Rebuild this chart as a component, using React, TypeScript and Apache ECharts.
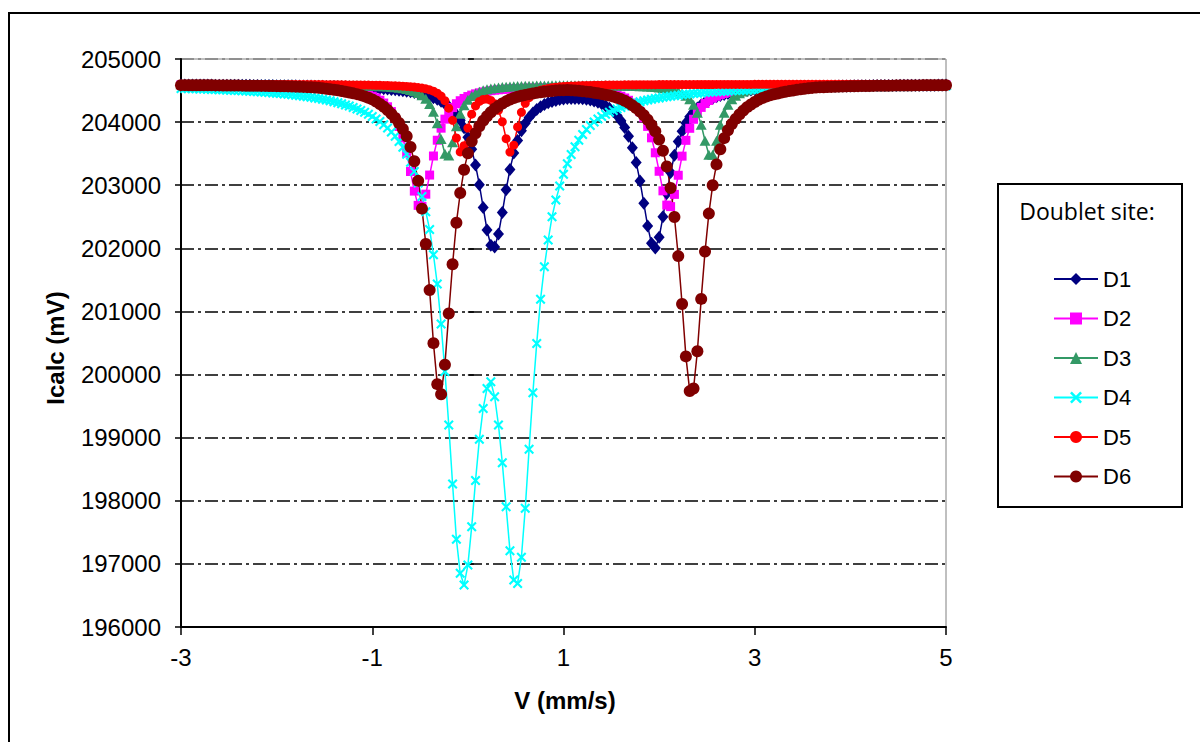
import React, { useEffect, useRef } from 'react';
import * as echarts from 'echarts';

// Velocity channels (mm/s)
const V = [
  -3,-2.96,-2.92,-2.88,-2.84,-2.8,-2.76,-2.72,-2.68,-2.64,
  -2.6,-2.56,-2.52,-2.48,-2.44,-2.4,-2.36,-2.32,-2.28,-2.24,
  -2.2,-2.16,-2.12,-2.08,-2.04,-2,-1.96,-1.92,-1.88,-1.84,
  -1.8,-1.76,-1.72,-1.68,-1.64,-1.6,-1.56,-1.52,-1.48,-1.44,
  -1.4,-1.36,-1.32,-1.28,-1.24,-1.2,-1.16,-1.12,-1.08,-1.04,
  -1,-0.96,-0.92,-0.88,-0.84,-0.8,-0.76,-0.72,-0.68,-0.64,
  -0.6,-0.56,-0.52,-0.48,-0.44,-0.4,-0.36,-0.32,-0.28,-0.24,
  -0.2,-0.16,-0.12,-0.08,-0.04,0,0.04,0.08,0.12,0.16,
  0.2,0.24,0.28,0.32,0.36,0.4,0.44,0.48,0.52,0.56,
  0.6,0.64,0.68,0.72,0.76,0.8,0.84,0.88,0.92,0.96,
  1,1.04,1.08,1.12,1.16,1.2,1.24,1.28,1.32,1.36,
  1.4,1.44,1.48,1.52,1.56,1.6,1.64,1.68,1.72,1.76,
  1.8,1.84,1.88,1.92,1.96,2,2.04,2.08,2.12,2.16,
  2.2,2.24,2.28,2.32,2.36,2.4,2.44,2.48,2.52,2.56,
  2.6,2.64,2.68,2.72,2.76,2.8,2.84,2.88,2.92,2.96,
  3,3.04,3.08,3.12,3.16,3.2,3.24,3.28,3.32,3.36,
  3.4,3.44,3.48,3.52,3.56,3.6,3.64,3.68,3.72,3.76,
  3.8,3.84,3.88,3.92,3.96,4,4.04,4.08,4.12,4.16,
  4.2,4.24,4.28,4.32,4.36,4.4,4.44,4.48,4.52,4.56,
  4.6,4.64,4.68,4.72,4.76,4.8,4.84,4.88,4.92,4.96,
  5
];

const D1 = [
  204589,204589,204588,204588,204588,204587,204587,204587,204587,204586,
  204586,204585,204585,204585,204584,204584,204583,204583,204583,204582,
  204582,204581,204580,204580,204579,204578,204578,204577,204576,204575,
  204575,204574,204573,204572,204571,204570,204568,204567,204566,204564,
  204563,204561,204559,204558,204556,204553,204551,204548,204546,204543,
  204539,204536,204532,204527,204523,204517,204512,204505,204498,204489,
  204480,204470,204457,204444,204427,204409,204387,204361,204329,204292,
  204246,204189,204118,204028,203912,203762,203569,203319,203008,202647,
  202291,202047,202021,202226,202567,202930,203250,203509,203710,203864,
  203982,204073,204144,204200,204244,204279,204305,204327,204344,204357,
  204366,204373,204376,204376,204374,204369,204361,204350,204334,204315,
  204290,204258,204219,204168,204103,204021,203915,203776,203595,203361,
  203065,202714,202352,202079,202006,202174,202500,202868,203202,203476,
  203691,203857,203985,204084,204162,204225,204274,204315,204349,204377,
  204401,204420,204438,204452,204465,204476,204486,204495,204502,204509,
  204515,204521,204526,204530,204534,204538,204541,204544,204547,204550,
  204552,204555,204557,204559,204561,204562,204564,204565,204567,204568,
  204569,204570,204571,204572,204573,204574,204575,204576,204577,204577,
  204578,204579,204579,204580,204581,204581,204582,204582,204583,204583,
  204584,204584,204585,204585,204585,204586,204586,204586,204587,204587,
  204587
];

const D2 = [
  204590,204590,204589,204589,204589,204588,204588,204588,204587,204587,
  204586,204586,204585,204585,204584,204584,204583,204582,204582,204581,
  204579,204578,204577,204576,204575,204573,204572,204571,204569,204568,
  204566,204564,204562,204559,204556,204553,204549,204546,204542,204537,
  204532,204526,204520,204513,204505,204494,204483,204470,204454,204435,
  204411,204383,204347,204302,204243,204167,204065,203930,203749,203511,
  203217,202907,202681,202664,202858,203161,203463,203713,203904,204047,
  204150,204230,204291,204339,204375,204405,204428,204448,204464,204478,
  204488,204498,204506,204512,204518,204523,204527,204530,204533,204535,
  204537,204539,204540,204541,204542,204542,204542,204541,204540,204539,
  204538,204536,204534,204531,204527,204524,204519,204513,204507,204500,
  204490,204480,204467,204452,204433,204410,204382,204346,204302,204243,
  204167,204067,203932,203751,203514,203221,202911,202685,202661,202855,
  203158,203461,203711,203902,204045,204152,204233,204295,204343,204380,
  204410,204434,204454,204471,204485,204496,204507,204515,204523,204529,
  204535,204540,204544,204548,204551,204555,204558,204560,204563,204565,
  204567,204569,204570,204572,204573,204574,204575,204576,204577,204578,
  204579,204580,204581,204581,204582,204583,204583,204584,204584,204585,
  204585,204586,204586,204587,204587,204588,204588,204588,204589,204589,
  204589,204590,204590,204590,204590,204590,204590,204590,204590,204590,
  204590
];

const D3 = [
  204598,204598,204598,204598,204597,204597,204597,204597,204597,204597,
  204597,204597,204596,204596,204596,204596,204596,204596,204596,204596,
  204596,204595,204595,204595,204595,204595,204594,204594,204594,204594,
  204593,204593,204593,204592,204592,204592,204591,204591,204590,204590,
  204589,204588,204587,204586,204585,204584,204583,204582,204580,204578,
  204576,204573,204570,204567,204563,204558,204552,204545,204536,204524,
  204509,204489,204462,204424,204369,204288,204166,203981,203732,203499,
  203471,203679,203936,204133,204267,204354,204413,204454,204483,204504,
  204520,204533,204542,204550,204556,204561,204565,204568,204571,204573,
  204575,204577,204578,204579,204580,204581,204582,204583,204583,204584,
  204584,204584,204585,204585,204585,204585,204585,204585,204584,204584,
  204583,204583,204582,204581,204580,204580,204578,204577,204575,204573,
  204570,204568,204565,204561,204556,204550,204542,204533,204521,204505,
  204484,204456,204418,204361,204277,204149,203958,203704,203484,203484,
  203704,203958,204149,204277,204361,204418,204457,204485,204506,204522,
  204534,204543,204551,204558,204563,204567,204570,204573,204576,204578,
  204580,204581,204583,204584,204585,204586,204587,204588,204589,204589,
  204590,204590,204591,204591,204592,204592,204593,204593,204593,204594,
  204594,204594,204595,204595,204595,204595,204596,204596,204596,204596,
  204596,204596,204596,204596,204596,204596,204597,204597,204597,204597,
  204597
];

const D4 = [
  204534,204533,204531,204529,204527,204525,204523,204521,204518,204516,
  204513,204511,204508,204505,204502,204499,204496,204493,204489,204485,
  204481,204477,204472,204468,204463,204458,204452,204446,204440,204433,
  204426,204419,204411,204402,204393,204384,204373,204362,204350,204337,
  204323,204308,204291,204273,204254,204233,204209,204184,204156,204124,
  204090,204051,204008,203960,203906,203844,203774,203693,203600,203492,
  203365,203216,203037,202822,202580,202300,201900,201434,200800,200050,
  199200,198265,197390,196850,196664,196981,197590,198320,198973,199464,
  199781,199886,199648,199200,198603,197905,197210,196743,196690,197105,
  197880,198815,199713,200494,201192,201709,202132,202500,202766,202986,
  203175,203342,203485,203608,203714,203804,203881,203948,204003,204051,
  204090,204124,204156,204184,204209,204233,204254,204273,204291,204308,
  204323,204337,204350,204362,204373,204384,204393,204402,204411,204419,
  204426,204433,204440,204446,204452,204458,204463,204468,204472,204477,
  204481,204485,204489,204493,204496,204499,204502,204505,204508,204511,
  204513,204516,204518,204521,204523,204525,204527,204529,204531,204533,
  204534,204536,204537,204539,204541,204542,204543,204545,204546,204547,
  204548,204550,204551,204552,204553,204554,204555,204556,204557,204557,
  204558,204559,204560,204561,204562,204562,204563,204564,204564,204565,
  204566,204566,204567,204568,204568,204569,204569,204570,204570,204571,
  204571
];

const D5 = [
  204598,204598,204598,204598,204598,204598,204598,204598,204598,204598,
  204598,204598,204598,204597,204597,204597,204597,204597,204597,204597,
  204597,204597,204597,204597,204597,204596,204596,204596,204596,204596,
  204595,204595,204595,204594,204594,204594,204594,204594,204593,204593,
  204592,204592,204591,204591,204590,204590,204589,204588,204587,204587,
  204586,204584,204583,204581,204580,204578,204575,204573,204569,204566,
  204561,204555,204548,204539,204527,204511,204490,204458,204412,204340,
  204221,204029,203748,203527,203627,203906,204126,204256,204327,204360,
  204365,204344,204291,204187,204006,203737,203525,203635,203924,204155,
  204299,204387,204442,204478,204503,204521,204534,204545,204553,204559,
  204564,204568,204571,204574,204577,204579,204581,204582,204584,204585,
  204586,204587,204588,204589,204590,204590,204591,204591,204592,204592,
  204593,204593,204593,204593,204593,204594,204594,204594,204594,204594,
  204595,204595,204595,204595,204595,204596,204596,204596,204596,204596,
  204597,204597,204597,204597,204597,204597,204597,204597,204597,204597,
  204598,204598,204598,204598,204598,204598,204598,204598,204598,204598,
  204598,204598,204598,204598,204598,204598,204598,204598,204598,204598,
  204598,204598,204598,204598,204598,204598,204598,204598,204598,204598,
  204599,204599,204599,204599,204599,204599,204599,204599,204599,204599,
  204599,204599,204599,204599,204599,204599,204599,204599,204599,204599,
  204599
];

const D6 = [
  204586,204586,204585,204585,204585,204584,204584,204583,204583,204582,
  204582,204581,204581,204580,204579,204579,204578,204577,204577,204576,
  204575,204574,204574,204573,204571,204570,204569,204568,204566,204565,
  204562,204560,204558,204554,204551,204548,204543,204536,204528,204520,
  204512,204503,204493,204481,204469,204456,204443,204427,204407,204385,
  204360,204327,204287,204243,204191,204131,204066,203985,203890,203775,
  203605,203379,203069,202629,202068,201338,200498,199848,199687,200157,
  200967,201747,202406,202876,203246,203505,203695,203824,203934,204023,
  204093,204157,204211,204256,204295,204329,204358,204382,204401,204418,
  204431,204443,204454,204464,204473,204480,204487,204493,204499,204503,
  204505,204507,204505,204501,204495,204489,204483,204476,204466,204457,
  204446,204434,204422,204406,204387,204365,204339,204305,204265,204221,
  204167,204108,204038,203954,203854,203725,203546,203296,202957,202497,
  201877,201118,200288,199738,199779,200369,201199,201949,202550,203000,
  203330,203570,203746,203871,203971,204051,204122,204182,204237,204279,
  204319,204355,204381,204404,204424,204441,204454,204468,204480,204491,
  204502,204511,204519,204527,204535,204542,204547,204551,204553,204556,
  204558,204560,204562,204564,204566,204568,204569,204570,204571,204572,
  204573,204574,204575,204576,204577,204577,204578,204579,204579,204580,
  204581,204581,204582,204582,204583,204583,204584,204584,204585,204585,
  204586
];

const SERIES_NAMES = ['D1', 'D2', 'D3', 'D4', 'D5', 'D6'];
const SERIES_VALUES = [D1, D2, D3, D4, D5, D6];
const COLORS = ['#000080', '#FF00FF', '#339966', '#00FFFF', '#FF0000', '#800000'];
const X_SYMBOL = 'path://M0,1.5L1.5,0L5,3.5L8.5,0L10,1.5L6.5,5L10,8.5L8.5,10L5,6.5L1.5,10L0,8.5L3.5,5Z';
const SYMBOLS = ['diamond', 'rect', 'triangle', X_SYMBOL, 'circle', 'circle'];
const SYMBOL_SIZES: any[] = [[11, 13], 9, [11, 10], 10, 9, 12];

const X_MIN = -3, X_MAX = 5, X_STEP = 2;
const Y_MIN = 196000, Y_MAX = 205000, Y_STEP = 1000;

export default function App() {
  const ref = useRef<HTMLDivElement>(null);

  useEffect(() => {
    if (!ref.current) return;
    const chart = echarts.init(ref.current, null, { renderer: 'svg' });
    const gridDash = [13, 4, 3, 4];
    const splitColors = ['#000', '#000', '#000', '#000', '#000', '#000', '#000', '#000', '#000', '#808080'];
    const labelFont = 'Liberation Sans';

    const series = SERIES_NAMES.map((name, si) => ({
      name,
      type: 'line',
      data: V.map((v, i) => [v, SERIES_VALUES[si][i]]),
      symbol: SYMBOLS[si],
      symbolSize: SYMBOL_SIZES[si],
      showSymbol: true,
      lineStyle: { color: COLORS[si], width: 1.5 },
      itemStyle: { color: COLORS[si], borderWidth: 0 },
      emphasis: { disabled: true },
      xAxisIndex: 0,
      yAxisIndex: 0,
    }));

    chart.setOption({
      animation: false,
      backgroundColor: '#ffffff',
      grid: {
        left: 181, top: 59, right: 254, bottom: 115,
        show: true, borderColor: '#808080', borderWidth: 1, backgroundColor: 'transparent',
      },
      xAxis: {
        type: 'value', min: X_MIN, max: X_MAX, interval: X_STEP,
        axisLine: { show: true, onZero: false, lineStyle: { color: '#000', width: 2 } },
        axisTick: { show: true, length: 8, lineStyle: { color: '#000', width: 1.5 } },
        axisLabel: { color: '#000', fontSize: 24, fontFamily: labelFont, margin: 18, formatter: (v: number) => String(v) },
        splitLine: { show: false },
      },
      yAxis: [
        {
          type: 'value', min: Y_MIN, max: Y_MAX, interval: Y_STEP,
          axisLine: { show: true, onZero: false, lineStyle: { color: '#000', width: 2 } },
          axisTick: { show: true, length: 6, lineStyle: { color: '#000', width: 1.5 } },
          axisLabel: { color: '#000', fontSize: 24, fontFamily: labelFont, margin: 20, formatter: (v: number) => String(v) },
          splitLine: { show: true, lineStyle: { color: splitColors, width: 1.5, type: gridDash } },
        },
        {
          type: 'value', min: Y_MIN, max: Y_MAX, interval: Y_STEP, position: 'left',
          axisLine: { show: false },
          axisTick: { show: true, inside: true, length: 6, lineStyle: { color: '#000', width: 1.5 } },
          axisLabel: { show: false },
          splitLine: { show: false },
        },
      ],
      legend: {
        orient: 'vertical', left: 1048, top: 263,
        itemWidth: 44, itemHeight: 15, itemGap: 17.5,
        textStyle: { fontSize: 22, fontFamily: labelFont, color: '#000', lineHeight: 22 },
        data: SERIES_NAMES,
        selectedMode: false,
      },
      graphic: [
        { type: 'rect', shape: { x: 9, y: 13, width: 1260, height: 800 }, style: { fill: 'none', stroke: '#000', lineWidth: 2 }, silent: true },
        { type: 'rect', shape: { x: 998, y: 184, width: 184, height: 323 }, style: { fill: 'none', stroke: '#000', lineWidth: 2 }, silent: true },
        { type: 'text', x: 1087, y: 211, style: { text: 'Doublet site:', font: '23px "Open Sans"', fill: '#000', align: 'center', verticalAlign: 'middle' }, silent: true },
        { type: 'text', x: 55, y: 348, rotation: Math.PI / 2, style: { text: 'Icalc (mV)', font: 'bold 24px "Liberation Sans"', fill: '#000', align: 'center', verticalAlign: 'middle' }, silent: true },
        { type: 'text', x: 565, y: 700, style: { text: 'V (mm/s)', font: 'bold 24px "Liberation Sans"', fill: '#000', align: 'center', verticalAlign: 'middle' }, silent: true },
      ],
      series,
    });

    return () => chart.dispose();
  }, []);

  return <div ref={ref} style={{ position: 'absolute', left: 0, top: 0, width: 1200, height: 742 }} />;
}
